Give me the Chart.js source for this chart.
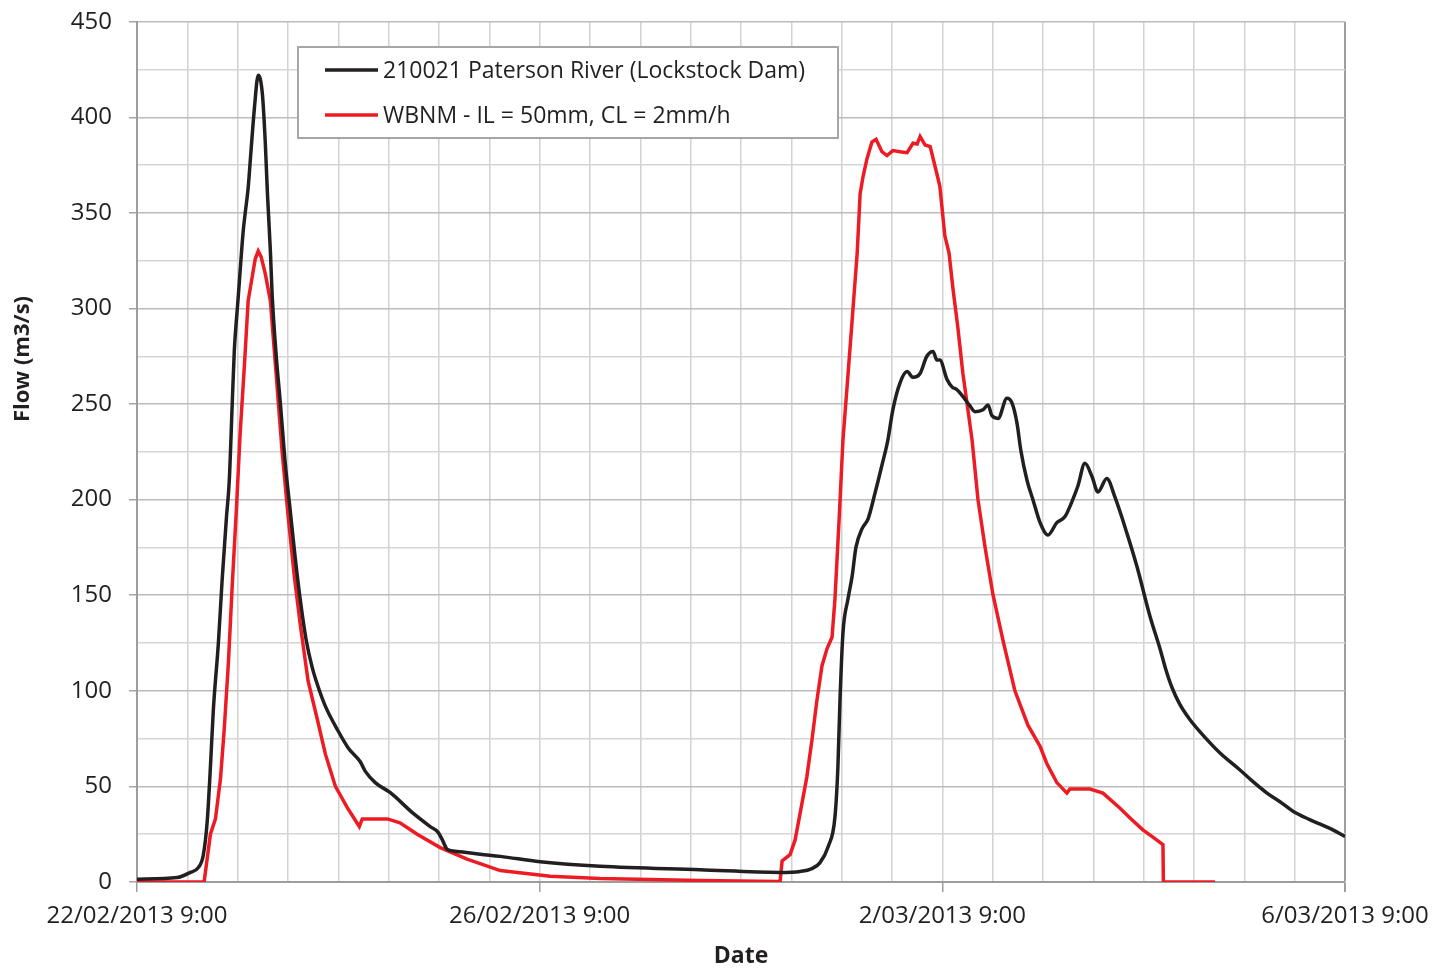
<!DOCTYPE html>
<html>
<head>
<meta charset="utf-8">
<title>Flow - Paterson River</title>
<script src="https://cdn.jsdelivr.net/npm/chart.js@4.4.1/dist/chart.umd.min.js"></script>
<style>
    html, body { margin: 0; padding: 0; background: #fff; }
    #wrap { width: 1433px; height: 968px; }
</style>
</head>
<body>
<div id="wrap"><canvas id="flowChart" width="1433" height="968"></canvas></div>
<script>
// x values are hours after 22/02/2013 9:00
const dateLabels = ["22/02/2013 9:00", "26/02/2013 9:00", "2/03/2013 9:00", "6/03/2013 9:00"];
const labelHours = [0, 96, 192, 288];

// 210021 Paterson River (Lockstock Dam) - recorded
const obsHours = [0, 9.6, 12.7, 14.6, 15.8, 16.75, 17.5, 18.2, 19.4, 20.3, 21.3, 22.0, 22.7, 23.2, 23.7, 24.1,
    24.6, 25.3, 25.8, 26.5, 27.2, 28.0, 28.9, 29.9, 30.6, 31.1, 31.8, 32.2, 33.2, 34.2, 35.3, 36.5, 37.7,
    38.9, 40.3, 41.8, 43.2, 44.9, 47.7, 50.4, 53.2, 54.4, 56.8, 60.4, 65.8, 69.9, 71.8, 72.8, 74.0, 76.3,
    81.8, 86.6, 96.1, 110.4, 134.2, 153.3, 158.1, 160.9, 162.8, 164.8, 166.4, 167.1, 167.6, 168.3, 169.5,
    170.5, 171.4, 172.9, 174.3, 175.9, 177.6, 179.0, 180.2, 181.9, 183.6, 185.0, 186.7, 188.3, 189.8,
    190.7, 191.4, 193.1, 194.3, 195.5, 196.9, 198.6, 199.8, 201.7, 202.9, 203.8, 205.3, 207.4, 208.6,
    209.8, 210.7, 212.2, 213.6, 215.3, 217.2, 219.3, 221.2, 222.9, 224.3, 226.0, 227.7, 229.1, 231.2,
    233.2, 236.0, 238.4, 241.5, 243.9, 245.3, 246.7, 248.6, 251.0, 255.1, 258.2, 262.9, 266.0, 269.4,
    272.5, 275.6, 279.6, 285.1, 288];
const obsFlow = [1.5, 2.3, 5, 7.5, 14, 32, 60, 90, 125, 158, 190, 210, 250, 278, 294, 305,
    320, 340, 350, 363, 383, 405, 422, 412, 386, 360, 330, 308, 275, 250, 220, 195, 170,
    148, 127, 112, 102, 92, 80, 70, 63, 58, 52, 46.7, 36, 29, 26, 22, 17, 16,
    14.5, 13.4, 10.6, 8.2, 6.4, 5, 5.5, 7, 10, 18.6, 34, 60, 95, 130, 148,
    160, 175, 185, 190, 203, 218, 231, 247, 261, 267, 264, 266, 275, 277.5,
    273, 273, 263, 259, 257.5, 254, 249, 246, 247, 249.5, 244, 242.5, 253, 250.6,
    240, 226, 210, 200, 188, 181.5, 188, 191, 199, 207, 219, 212, 204, 211,
    201, 182.5, 165, 139, 122, 111, 102, 93, 85, 74.5, 67.5, 58.7, 52.6, 46.5,
    42, 37, 32.6, 27.3, 23.8];

// WBNM - IL = 50mm, CL = 2mm/h - modelled
const simHours = [0, 16.0, 17.5, 18.7, 19.9, 20.8, 21.8, 22.7, 23.7, 24.6, 25.6, 26.5, 27.5, 28.2, 28.9,
    29.6, 30.6, 31.8, 33.2, 34.6, 36.1, 37.5, 38.9, 40.8, 43.0, 44.9, 47.3, 50.1, 53.0, 53.7, 59.7,
    62.7, 66.8, 72.3, 78.7, 86.6, 98.5, 110.4, 134.2, 152.8, 153.3, 153.8, 155.7, 156.9, 158.1, 159.7,
    160.9, 162.1, 163.3, 164.5, 165.7, 166.4, 167.4, 168.3, 169.5, 170.5, 171.7, 172.4, 173.1, 174.0,
    175.2, 176.2, 177.6, 178.8, 180.2, 181.9, 183.6, 185.0, 186.0, 186.7, 187.9, 189.1, 190.3, 191.4,
    192.6, 193.6, 194.5, 195.7, 196.9, 198.1, 199.1, 200.5, 202.2, 203.4, 204.1, 206.5, 209.3, 212.4,
    215.3, 216.9, 219.3, 221.7, 222.4, 227.2, 230.3, 234.3, 237.0, 239.8, 242.2, 244.6, 244.7, 257.0];
const simFlow = [0, 0, 25, 33, 54, 80, 115, 155, 195, 235, 270, 304, 317, 326, 330,
    327, 318, 304, 265, 225, 190, 160, 135, 105, 85, 67, 50, 39, 29, 33, 33,
    31, 25, 18, 12, 6, 3, 1.8, 0.8, 0.3, 0, 11, 14.3, 22, 36, 55,
    74, 95, 113, 122, 128, 148, 190, 231, 265, 294, 329, 360, 369, 378,
    387, 388.5, 382, 380, 382.6, 382, 381.5, 386.4, 386, 390, 385.5, 384.7, 374, 364,
    338, 329, 311, 290, 266, 247, 231, 200, 175, 159, 150, 126, 100, 82,
    71, 62, 52, 46.5, 48.6, 48.6, 46.5, 38.7, 33, 27.3, 23.5, 19.5, 0, 0];

const yTitle = "Flow (m3/s)";
const inkColor = "#231f20";
const fontName = "'Open Sans', 'DejaVu Sans', sans-serif";

function toPoints(xs, ys) {
    return xs.map((x, i) => ({ x: x, y: ys[i] }));
}

// legend box + y title, placed like the spreadsheet original
const extras = {
    id: "extras",
    afterDraw(chart) {
        const ctx = chart.ctx;
        ctx.save();
        ctx.fillStyle = "#ffffff";
        ctx.fillRect(298, 47, 540, 91);
        ctx.strokeStyle = "#a6a6a6";
        ctx.lineWidth = 2;
        ctx.strokeRect(298, 47, 540, 91);
        ctx.font = "23px " + fontName;
        ctx.textBaseline = "middle";
        chart.data.datasets.forEach((ds, i) => {
            const y = 70 + i * 45;
            ctx.strokeStyle = ds.borderColor;
            ctx.lineWidth = 3.5;
            ctx.beginPath();
            ctx.moveTo(325, y);
            ctx.lineTo(378, y);
            ctx.stroke();
            ctx.fillStyle = inkColor;
            ctx.fillText(ds.label, 383, y + 1);
        });

        ctx.translate(23, 359);
        ctx.rotate(-Math.PI / 2);
        ctx.font = "bold 22px " + fontName;
        ctx.textAlign = "center";
        ctx.fillStyle = inkColor;
        ctx.fillText(yTitle, 0, 0);
        ctx.restore();
    }
};

const ctxFlow = document.getElementById("flowChart").getContext("2d");
new Chart(ctxFlow, {
    type: "line",
    data: {
        datasets: [
            { label: "210021 Paterson River (Lockstock Dam)", data: toPoints(obsHours, obsFlow),
              borderColor: "#231f20", borderWidth: 3.5, pointRadius: 0, cubicInterpolationMode: "monotone", fill: false },
            { label: "WBNM - IL = 50mm, CL = 2mm/h", data: toPoints(simHours, simFlow),
              borderColor: "#ed1c24", borderWidth: 3.5, pointRadius: 0, tension: 0, fill: false }
        ]
    },
    options: {
        responsive: false,
        animation: false,
        devicePixelRatio: 1,
        layout: { padding: { left: 0, right: 88, top: 21.7, bottom: 0 } },
        plugins: { legend: { display: false }, tooltip: { enabled: false } },
        scales: {
            x: {
                type: "linear",
                min: 0,
                max: 288,
                afterFit: (scale) => {
                    scale.height = 86;
                    scale.paddingLeft = 0;
                    scale.paddingRight = 0;
                },
                ticks: {
                    stepSize: 12,
                    autoSkip: false,
                    maxRotation: 0,
                    padding: 10,
                    color: inkColor,
                    font: { family: fontName, size: 24 },
                    callback: (v) => {
                        const k = labelHours.indexOf(v);
                        return k >= 0 ? dateLabels[k] : "";
                    }
                },
                grid: {
                    color: (c) => (c.tick && c.tick.value === 288 ? "#9d9d9d" : "#d2d2d2"),
                    lineWidth: (c) => (c.tick && c.tick.value === 288 ? 2 : 1.5),
                    tickLength: 10,
                    tickColor: (c) => (c.tick && labelHours.includes(c.tick.value) ? "#9d9d9d" : "rgba(0,0,0,0)")
                },
                border: { color: "#9d9d9d", width: 2 },
                title: {
                    display: true,
                    text: "Date",
                    color: inkColor,
                    font: { family: fontName, size: 23, weight: "bold", lineHeight: 1 },
                    padding: { top: 0, bottom: 0 }
                }
            },
            y: {
                min: 0,
                max: 450,
                afterFit: (scale) => {
                    scale.width = 137;
                    scale.paddingTop = 0;
                    scale.paddingBottom = 0;
                },
                ticks: {
                    stepSize: 25,
                    autoSkip: false,
                    padding: 17,
                    color: inkColor,
                    font: { family: fontName, size: 24 },
                    callback: (v) => (v % 50 === 0 ? v : "")
                },
                grid: {
                    color: (c) => (c.tick && c.tick.value % 50 === 0 ? "#bcbcbc" : "#d6d6d6"),
                    lineWidth: 1.5,
                    tickLength: 8,
                    tickColor: (c) => (c.tick && c.tick.value % 50 === 0 ? "#a6a6a6" : "rgba(0,0,0,0)")
                },
                border: { color: "#9d9d9d", width: 2 },
                title: { display: false }
            }
        }
    },
    plugins: [extras]
});
</script>
</body>
</html>
